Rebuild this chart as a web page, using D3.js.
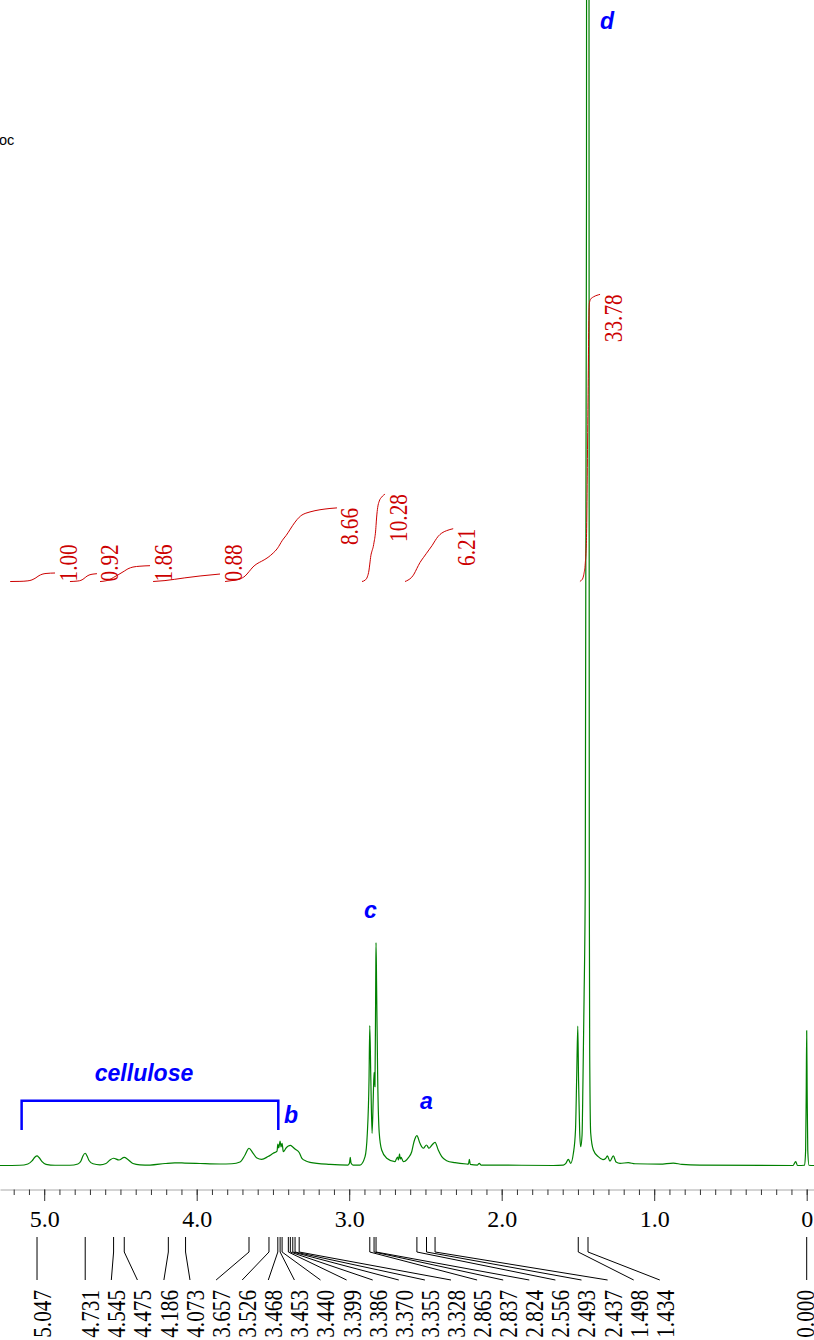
<!DOCTYPE html>
<html>
<head>
<meta charset="utf-8">
<script src="https://cdn.jsdelivr.net/npm/d3@7"></script>
<style>
  html, body { margin: 0; padding: 0; background: #fff; overflow: hidden; }
  svg { display: block; }
</style>
</head>
<body>
<svg id="chart" width="814" height="1340"></svg>
<script>
// ---- 1H NMR trace: chemical shift (ppm) and relative intensity (100 = full plot height) ----
const spectrumPpm = [
  5.290, 5.159, 5.107, 5.080, 5.060, 5.047, 5.034, 5.014, 4.988, 4.929,
  4.831, 4.779, 4.759, 4.746, 4.731, 4.719, 4.706, 4.680, 4.634,
  4.595, 4.569, 4.545, 4.510, 4.475, 4.451, 4.418, 4.372,
  4.306, 4.208, 4.144, 4.078, 3.978, 3.847, 3.769,
  3.716, 3.683, 3.657, 3.631, 3.605, 3.574, 3.532, 3.498, 3.473, 3.468, 3.462, 3.453, 3.447, 3.440,
  3.432, 3.414, 3.399, 3.386, 3.370, 3.355, 3.328, 3.310, 3.284, 3.257, 3.126,
  3.008, 2.998, 2.993, 2.988, 2.975, 2.929,
  2.896, 2.881, 2.870, 2.865, 2.858, 2.850, 2.842, 2.837, 2.831, 2.826, 2.824, 2.820, 2.813, 2.803,
  2.787, 2.754, 2.700,
  2.683, 2.677, 2.670, 2.665, 2.660, 2.645, 2.614, 2.590, 2.575, 2.556, 2.536, 2.514, 2.493, 2.477,
  2.457, 2.437, 2.416, 2.393, 2.361, 2.306, 2.230,
  2.218, 2.212, 2.206, 2.159, 2.147, 2.136, 2.077, 1.662,
  1.596, 1.578, 1.563, 1.548, 1.530, 1.516, 1.508, 1.501, 1.496, 1.489, 1.482, 1.473, 1.467, 1.460,
  1.452, 1.444, 1.435, 1.427, 1.4256, 1.423, 1.4164, 1.399, 1.367, 1.336, 1.319, 1.307, 1.290, 1.268,
  1.250, 1.224, 1.170, 1.126, 0.962, 0.875, 0.818, 0.700,
  0.090, 0.072, 0.060, 0.014, 0.007, 0.003, 0.000, -0.003, -0.007, -0.015, -0.048
];
const spectrumIntensity = [
  0, 0.02, 0.13, 0.39, 0.73, 0.82, 0.69, 0.34, 0.10, 0.02,
  0.02, 0.13, 0.39, 0.82, 1.05, 0.82, 0.43, 0.15, 0.06,
  0.17, 0.47, 0.62, 0.47, 0.69, 0.51, 0.17, 0.06,
  0.04, 0.17, 0.23, 0.21, 0.17, 0.13, 0.15,
  0.30, 0.90, 1.48, 1.07, 0.64, 0.53, 0.77, 1.05, 1.24, 1.84, 1.50, 2.10, 1.59, 1.89,
  1.18, 1.50, 1.67, 1.72, 1.59, 1.41, 1.12, 0.62, 0.39, 0.27, 0.10,
  0.04, 0.21, 0.69, 0.21, 0.04, 0.04,
  0.76, 2.79, 7.34, 12.00, 7.34, 2.76, 5.90, 8.00, 6.76, 15.90, 19.12, 15.06, 7.34, 2.79,
  1.33, 0.62, 0.33,
  0.73, 0.47, 0.99, 0.56, 0.69, 0.33, 0.64, 1.18, 2.04, 2.56, 1.90, 1.48, 1.76, 1.48,
  1.76, 1.99, 1.33, 0.76, 0.41, 0.24, 0.13,
  0.12, 0.53, 0.10, 0.04, 0.19, 0.04, 0.04, 0,
  0.04, 0.21, 0.53, 0.19, 1.05, 3.05, 7.76, 11.97, 7.34, 3.05, 1.61, 2.62, 7.34, 14.2,
  24.5, 82.8, 357, 82.8, 24.5, 9.87, 2.79, 1.33, 0.76, 0.51, 0.60, 0.82, 0.37, 0.82,
  0.30, 0.19, 0.24, 0.15, 0.11, 0.21, 0.10, 0.04,
  0, 0.33, 0, 0.02, 1.33, 6.48, 11.57, 6.48, 1.33, 0.02, 0
];

// ---- picked peaks ----
const peakLabels = [
  "5.047", "4.731", "4.545", "4.475", "4.186", "4.073", "3.657", "3.526", "3.468", "3.453",
  "3.440", "3.399", "3.386", "3.370", "3.355", "3.328", "2.865", "2.837", "2.824", "2.556",
  "2.493", "2.437", "1.498", "1.434", "0.000"
];

// ---- integrals: region limits (ppm) and normalised areas ----
const integralFrom   = [5.223, 4.831, 4.634, 4.286, 3.814, 2.916, 2.634, 1.487];
const integralTo     = [4.929, 4.654, 4.306, 3.847, 3.080, 2.765, 2.318, 1.355];
const integralValues = [1.00, 0.92, 1.86, 0.88, 8.66, 10.28, 6.21, 33.78];

// ---- shift axis ----
const majorTicks = [5, 4, 3, 2, 1, 0];
const majorTickLabels = ["5.0", "4.0", "3.0", "2.0", "1.0", "0"];

// ---- layout ----
const W = 814, H = 1340;
const baselineY = 1165.5;
const axisY = 1189.5;
const serif = "'Liberation Serif', 'Times New Roman', serif";
const sans = "'Liberation Sans', Arial, sans-serif";
const green = "#008000", red = "#cc0000", blue = "#0000ff";

const svg = d3.select("#chart");

const x = d3.scaleLinear().domain([5.2898, -0.0479]).range([0, W]);
const y = d3.scaleLinear().domain([0, 100]).range([baselineY, 0]);

const spectrum = spectrumPpm.map((p, k) => ({ ppm: p, i: spectrumIntensity[k] }))
  .sort((a, b) => b.ppm - a.ppm);

svg.append("defs").append("clipPath").attr("id", "plotClip")
  .append("rect").attr("x", 0).attr("y", 0).attr("width", W).attr("height", axisY - 1);

// file name fragment at the top-left corner
svg.append("text").attr("x", -1).attr("y", 145)
  .attr("font-family", sans).attr("font-size", 14.5).attr("fill", "#000")
  .text("oc");

// ---- spectrum trace ----
const line = d3.line()
  .x(d => x(d.ppm))
  .y(d => y(d.i))
  .curve(d3.curveMonotoneX);

svg.append("path")
  .datum(spectrum)
  .attr("clip-path", "url(#plotClip)")
  .attr("d", line)
  .attr("fill", "none")
  .attr("stroke", green)
  .attr("stroke-width", 1.2)
  .attr("stroke-linejoin", "round");

// ---- integral curves (cumulative area, left to right) ----
function intensityAt(p) {
  for (let k = 0; k < spectrum.length - 1; k++) {
    const a = spectrum[k], b = spectrum[k + 1];
    if (p <= a.ppm && p >= b.ppm) {
      const t = (a.ppm - p) / (a.ppm - b.ppm);
      return a.i + (b.i - a.i) * t;
    }
  }
  return 0;
}

const integralBaseY = 581.5;
const pxPerUnit = 8.5;
const gInt = svg.append("g");

integralValues.forEach((val, n) => {
  const from = integralFrom[n], to = integralTo[n];
  const pts = [{ ppm: from, i: intensityAt(from) }]
    .concat(spectrum.filter(d => d.ppm < from && d.ppm > to))
    .concat([{ ppm: to, i: intensityAt(to) }]);
  const cum = [0];
  for (let k = 1; k < pts.length; k++) {
    cum.push(cum[k - 1] + (pts[k - 1].ppm - pts[k].ppm) * (pts[k - 1].i + pts[k].i) / 2);
  }
  const total = cum[cum.length - 1];
  const iy = d3.scaleLinear().domain([0, total]).range([integralBaseY, integralBaseY - val * pxPerUnit]);
  const curve = pts.map((d, k) => ({ ppm: d.ppm, c: cum[k] }));

  gInt.append("path")
    .datum(curve)
    .attr("d", d3.line().x(d => x(d.ppm)).y(d => iy(d.c)).curve(d3.curveMonotoneX))
    .attr("fill", "none")
    .attr("stroke", red)
    .attr("stroke-width", 1);

  const endX = x(to), endY = iy(total);
  const label = gInt.append("text")
    .attr("font-family", serif).attr("font-size", 25).attr("fill", red)
    .attr("text-anchor", "end")
    .text(val.toFixed(2));
  const len = label.node().getComputedTextLength() * 0.85;
  const topY = Math.min(endY, integralBaseY - len);
  label.attr("transform", `translate(${endX + 21.5},${topY}) rotate(-90) scale(0.85,1)`);
});

// ---- shift axis ----
const minorTicks = d3.range(0, 53).map(k => k / 10);

const gMinor = svg.append("g").attr("transform", `translate(0,${axisY})`)
  .call(d3.axisBottom(x).tickValues(minorTicks).tickSize(5.5).tickSizeOuter(0).tickFormat(""));
gMinor.select(".domain").attr("stroke", "#a8a8a8").attr("stroke-width", 1);
gMinor.selectAll(".tick line").attr("stroke", "#333").attr("stroke-width", 1);

const gMajor = svg.append("g").attr("transform", `translate(0,${axisY})`)
  .call(d3.axisBottom(x).tickValues(majorTicks).tickSize(11.5).tickSizeOuter(0)
    .tickFormat((d, k) => majorTickLabels[k]));
gMajor.select(".domain").remove();
gMajor.selectAll(".tick line").attr("stroke", "#333").attr("stroke-width", 1);
gMajor.selectAll(".tick text")
  .attr("y", 37).attr("dy", 0)
  .attr("font-family", serif).attr("font-size", 24).attr("fill", "#000");

// ---- peak labels: overlapping labels are grouped and centred on their peaks,
//      but a group never slides over the group to its left ----
const gap = 26.1;
const targets = peakLabels.map(s => x(+s));
const groups = [];
const groupEnd = g => g.start + (g.members.length - 1) * gap;
function placeGroup(g, lower) {
  const n = g.members.length;
  let s = g.sum / n - (n - 1) * gap / 2;
  if (lower) s = Math.max(s, groupEnd(lower) + gap);
  g.start = s;
}
targets.forEach((t, k) => {
  const top = groups[groups.length - 1];
  if (top && t < groupEnd(top) + gap) {
    top.members.push(k);
    top.sum += t;
    placeGroup(top, groups[groups.length - 2]);
  } else {
    const g = { members: [k], sum: t };
    placeGroup(g, top);
    groups.push(g);
  }
});
const placed = [];
groups.forEach(g => g.members.forEach((k, j) => { placed[k] = g.start + j * gap; }));

const gPeaks = svg.append("g");
peakLabels.forEach((s, k) => {
  const tx = targets[k], lx = placed[k];
  gPeaks.append("path")
    .attr("d", `M${tx},1237V1252L${lx},1280`)
    .attr("fill", "none").attr("stroke", "#000").attr("stroke-width", 1);
  const bx = Math.min(lx + 14, W - 0.5);
  gPeaks.append("text")
    .attr("transform", `translate(${bx},1290) rotate(-90) scale(0.85,1)`)
    .attr("text-anchor", "end")
    .attr("font-family", serif).attr("font-size", 25).attr("fill", "#000")
    .text(s);
});

// ---- assignments ----
const gAnn = svg.append("g")
  .attr("font-family", sans).attr("font-weight", "bold").attr("font-style", "italic")
  .attr("font-size", 23).attr("fill", blue);

svg.append("path")
  .attr("d", `M${x(5.148)},1130V1100.7H${x(3.465)}V1130`)
  .attr("fill", "none").attr("stroke", blue).attr("stroke-width", 2.5);

gAnn.append("text").attr("x", 144).attr("y", 1080.5).attr("text-anchor", "middle").text("cellulose");
gAnn.append("text").attr("x", 284).attr("y", 1123).text("b");
gAnn.append("text").attr("x", 420).attr("y", 1109).text("a");
gAnn.append("text").attr("x", 364).attr("y", 918).text("c");
gAnn.append("text").attr("x", 600).attr("y", 29).text("d");
</script>
</body>
</html>
